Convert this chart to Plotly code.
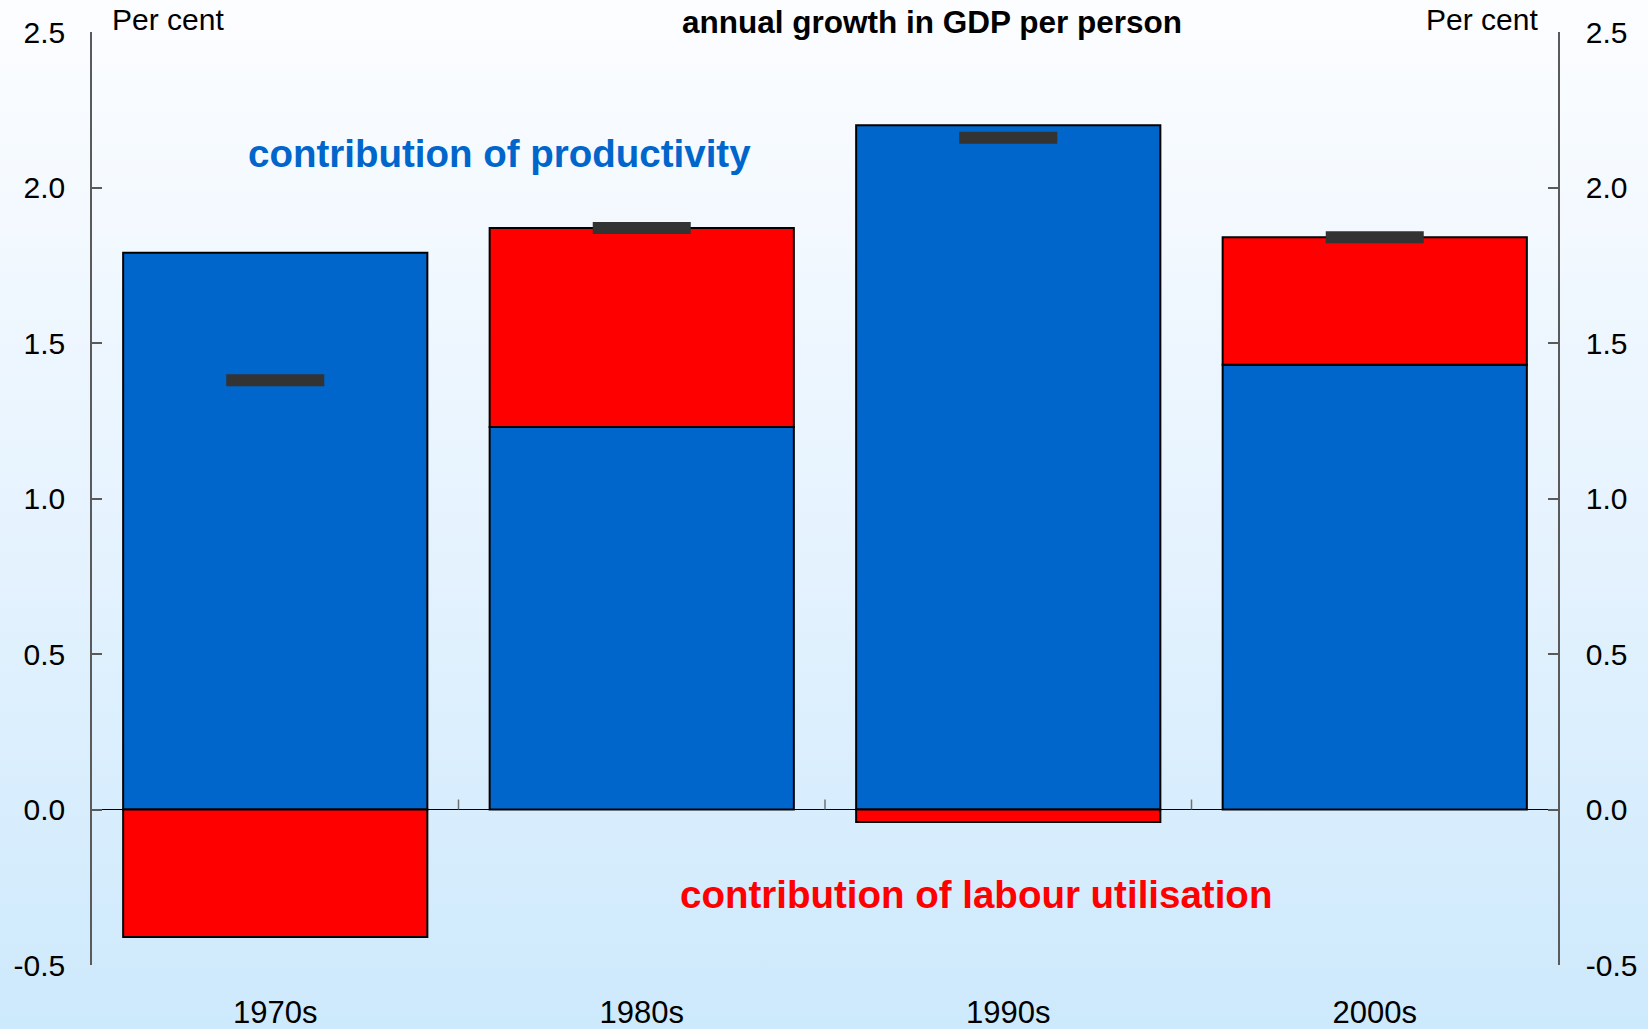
import base64
import plotly.graph_objects as go

# Decades and the two contributions to annual growth in GDP per person (per cent)
decades = ["1970s", "1980s", "1990s", "2000s"]
productivity = [1.79, 1.23, 2.20, 1.43]
labour_utilisation = [-0.41, 0.64, -0.04, 0.41]
gdp_per_person = [1.38, 1.87, 2.16, 1.84]

y_tick_values = [-0.5, 0.0, 0.5, 1.0, 1.5, 2.0, 2.5]
y_tick_labels = ["-0.5", "0.0", "0.5", "1.0", "1.5", "2.0", "2.5"]

W, H = 1648, 1029
M_L, M_R, M_T, M_B = 92, 90, 32, 64
PW, PH = W - M_L - M_R, H - M_T - M_B

FONT = "Arial, Liberation Sans, sans-serif"
BLUE = "#0066CC"
RED = "#FF0000"
AXIS_GREY = "#5a5a5a"

# Vertical background wash from near-white to pale sky blue
svg = (
    '<svg xmlns="http://www.w3.org/2000/svg" width="100" height="100" preserveAspectRatio="none">'
    '<defs><linearGradient id="g" x1="0" y1="0" x2="0" y2="1">'
    '<stop offset="0" stop-color="#fcfdff"/>'
    '<stop offset="0.5" stop-color="#e6f3fe"/>'
    '<stop offset="1" stop-color="#cde9fc"/>'
    '</linearGradient></defs>'
    '<rect width="100" height="100" fill="url(#g)"/></svg>'
)
bg_uri = "data:image/svg+xml;base64," + base64.b64encode(svg.encode()).decode()

fig = go.Figure()

fig.add_trace(go.Bar(
    x=decades, y=productivity, name="contribution of productivity",
    marker=dict(color=BLUE, line=dict(color="black", width=2)),
    hoverinfo="x+y",
))
fig.add_trace(go.Bar(
    x=decades, y=labour_utilisation, name="contribution of labour utilisation",
    marker=dict(color=RED, line=dict(color="black", width=2)),
    hoverinfo="x+y",
))
# Total growth shown as a short dark dash on the right-hand axis
fig.add_trace(go.Scatter(
    x=decades, y=gdp_per_person, name="annual growth in GDP per person",
    mode="markers", yaxis="y2",
    marker=dict(symbol="line-ew", size=70, color="#333333",
                line=dict(color="#333333", width=12)),
))

# Small upward ticks on the zero line between decades
for boundary in (0.5, 1.5, 2.5):
    fig.add_shape(
        type="line", xref="x", yref="y", x0=boundary, x1=boundary,
        ysizemode="pixel", yanchor=0, y0=0, y1=10,
        line=dict(color="#707070", width=1.5), layer="above",
    )

axis_common = dict(
    range=[-0.5, 2.5], tickvals=y_tick_values, ticktext=y_tick_labels,
    showgrid=False, zeroline=False, showline=True, linecolor=AXIS_GREY,
    linewidth=1.5, ticks="inside", ticklen=10, tickwidth=1.5, tickcolor=AXIS_GREY,
    tickfont=dict(family=FONT, size=30, color="black"),
    fixedrange=True, automargin=False,
)

fig.update_layout(
    width=W, height=H,
    margin=dict(l=M_L, r=M_R, t=M_T, b=M_B, pad=0, autoexpand=False),
    barmode="relative", bargap=0.17,
    showlegend=False,
    paper_bgcolor="#e6f3fe", plot_bgcolor="rgba(0,0,0,0)",
    font=dict(family=FONT, color="black"),
    xaxis=dict(
        type="category", showgrid=False, zeroline=False, showline=False,
        ticks="", tickfont=dict(family=FONT, size=31, color="black"),
        ticklabelstandoff=26, fixedrange=True, automargin=False,
    ),
    yaxis=dict(side="left", ticklabelstandoff=19, **axis_common),
    yaxis2=dict(side="right", overlaying="y", matches="y",
                ticklabelstandoff=20, **axis_common),
    images=[dict(
        source=bg_uri, xref="paper", yref="paper",
        x=-M_L / PW, y=1 + M_T / PH, sizex=W / PW, sizey=H / PH,
        xanchor="left", yanchor="top", sizing="stretch", layer="below",
    )],
)

# Zero line drawn across the full plot width
fig.add_shape(type="line", xref="paper", yref="y", x0=0, x1=1, y0=0, y1=0,
              line=dict(color="black", width=1.2), layer="below")

annotations = [
    dict(text="Per cent", x=0, xshift=18, xanchor="left", y=1, yshift=13,
         yanchor="middle", font=dict(size=30)),
    dict(text="Per cent", x=1, xshift=-18, xanchor="right", y=1, yshift=13,
         yanchor="middle", font=dict(size=30)),
    dict(text="<b>annual growth in GDP per person</b>", x=(932 - M_L) / PW,
         xanchor="center", y=1, yshift=10, yanchor="middle", font=dict(size=31.5)),
    dict(text="<b>contribution of productivity</b>", x=(499 - M_L) / PW,
         xanchor="center", y=(H - M_B - 153) / PH, yanchor="middle",
         font=dict(size=38.5, color=BLUE)),
    dict(text="<b>contribution of labour utilisation</b>", x=(976 - M_L) / PW,
         xanchor="center", y=(H - M_B - 894) / PH, yanchor="middle",
         font=dict(size=38.5, color=RED)),
]
for a in annotations:
    a.update(xref="paper", yref="paper", showarrow=False)
    a["font"] = dict(family=FONT, color=a["font"].get("color", "black"),
                     size=a["font"]["size"])
    fig.add_annotation(**a)

fig.write_html("out.html")
